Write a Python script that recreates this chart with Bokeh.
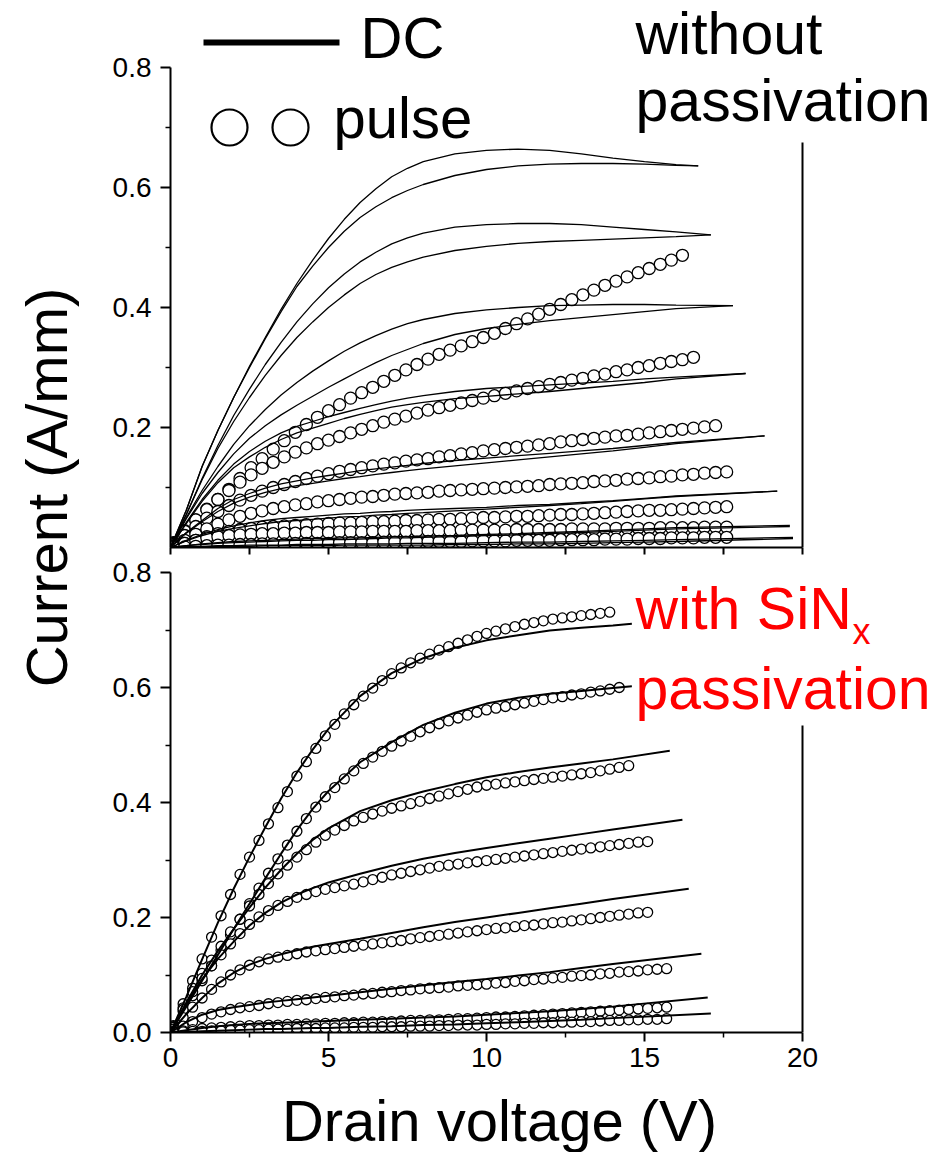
from math import pi

from bokeh.embed import file_html
from bokeh.layouts import column, row
from bokeh.models import Arrow, FixedTicker, Label, LinearAxis, PrintfTickFormatter, Range1d
from bokeh.plotting import figure
from bokeh.resources import INLINE

FONT = "Liberation Sans"

# ---------------------------------------------------------------- data
# Top panel: device without passivation
V_DC_TOP = [0, 0.5, 1, 1.5, 2, 2.5, 3, 3.5, 4, 4.5, 5, 5.5, 6, 6.5, 7, 7.5, 8, 9, 10, 11, 12, 13, 14, 15, 16]
DC_TOP_END_V = [16.7, 17.1, 17.8, 18.2, 18.8, 19.2, 19.6, 19.7]
# each gate step has two DC sweeps (a, b); last value belongs to the end voltage
DC_TOP_A = [
    [0, 0.062, 0.135, 0.195, 0.25, 0.302, 0.35, 0.397, 0.44, 0.479, 0.515, 0.547, 0.575, 0.598, 0.618, 0.632, 0.643, 0.656, 0.662, 0.664, 0.662, 0.656, 0.649, 0.643, 0.638, 0.636],
    [0, 0.055, 0.115, 0.17, 0.22, 0.264, 0.305, 0.342, 0.376, 0.406, 0.433, 0.456, 0.476, 0.492, 0.506, 0.516, 0.524, 0.534, 0.538, 0.54, 0.54, 0.538, 0.534, 0.53, 0.526, 0.521],
    [0, 0.05, 0.095, 0.135, 0.172, 0.203, 0.23, 0.254, 0.275, 0.294, 0.311, 0.327, 0.341, 0.353, 0.364, 0.373, 0.38, 0.39, 0.396, 0.4, 0.403, 0.404, 0.405, 0.405, 0.404, 0.403],
    [0, 0.042, 0.08, 0.112, 0.139, 0.16, 0.177, 0.191, 0.202, 0.21, 0.218, 0.225, 0.232, 0.238, 0.244, 0.249, 0.253, 0.26, 0.265, 0.268, 0.271, 0.274, 0.277, 0.281, 0.284, 0.29],
    [0, 0.025, 0.045, 0.065, 0.08, 0.09, 0.099, 0.106, 0.111, 0.116, 0.12, 0.124, 0.128, 0.131, 0.134, 0.137, 0.14, 0.145, 0.149, 0.153, 0.157, 0.161, 0.165, 0.17, 0.175, 0.186],
    [0, 0.012, 0.022, 0.03, 0.036, 0.041, 0.045, 0.048, 0.05, 0.052, 0.054, 0.056, 0.057, 0.059, 0.06, 0.062, 0.063, 0.065, 0.067, 0.07, 0.072, 0.075, 0.078, 0.082, 0.086, 0.094],
    [0, 0.003, 0.006, 0.008, 0.01, 0.011, 0.012, 0.013, 0.014, 0.015, 0.015, 0.016, 0.016, 0.017, 0.018, 0.018, 0.019, 0.02, 0.022, 0.023, 0.025, 0.027, 0.029, 0.031, 0.033, 0.037],
    [0, 0.001, 0.002, 0.003, 0.003, 0.004, 0.004, 0.004, 0.005, 0.005, 0.005, 0.006, 0.006, 0.006, 0.006, 0.007, 0.007, 0.007, 0.008, 0.009, 0.009, 0.01, 0.011, 0.012, 0.013, 0.017],
]
DC_TOP_B = [
    [0, 0.062, 0.135, 0.195, 0.25, 0.3, 0.348, 0.393, 0.435, 0.469, 0.5, 0.527, 0.55, 0.568, 0.583, 0.595, 0.605, 0.62, 0.63, 0.636, 0.639, 0.64, 0.64, 0.639, 0.637, 0.636],
    [0, 0.055, 0.113, 0.165, 0.21, 0.25, 0.287, 0.32, 0.35, 0.376, 0.4, 0.421, 0.44, 0.455, 0.467, 0.476, 0.484, 0.495, 0.502, 0.507, 0.51, 0.512, 0.514, 0.516, 0.518, 0.521],
    [0, 0.048, 0.09, 0.125, 0.156, 0.182, 0.203, 0.221, 0.237, 0.252, 0.267, 0.281, 0.295, 0.308, 0.32, 0.33, 0.34, 0.355, 0.365, 0.372, 0.378, 0.383, 0.388, 0.393, 0.398, 0.403],
    [0, 0.04, 0.077, 0.108, 0.133, 0.151, 0.167, 0.18, 0.191, 0.199, 0.207, 0.215, 0.222, 0.228, 0.234, 0.238, 0.242, 0.248, 0.252, 0.256, 0.26, 0.265, 0.27, 0.275, 0.281, 0.29],
    [0, 0.024, 0.043, 0.06, 0.074, 0.084, 0.092, 0.098, 0.103, 0.107, 0.111, 0.115, 0.118, 0.122, 0.125, 0.128, 0.131, 0.136, 0.141, 0.146, 0.151, 0.156, 0.161, 0.167, 0.173, 0.186],
    [0, 0.011, 0.02, 0.027, 0.032, 0.036, 0.04, 0.043, 0.045, 0.047, 0.049, 0.051, 0.052, 0.054, 0.055, 0.057, 0.058, 0.061, 0.064, 0.067, 0.07, 0.073, 0.077, 0.081, 0.085, 0.094],
    [0, 0.003, 0.005, 0.007, 0.008, 0.009, 0.01, 0.011, 0.012, 0.012, 0.013, 0.013, 0.014, 0.015, 0.016, 0.016, 0.017, 0.018, 0.02, 0.021, 0.023, 0.025, 0.027, 0.029, 0.031, 0.035],
    [0, 0.001, 0.001, 0.002, 0.002, 0.002, 0.003, 0.003, 0.003, 0.003, 0.003, 0.004, 0.004, 0.004, 0.004, 0.004, 0.004, 0.005, 0.005, 0.006, 0.006, 0.007, 0.008, 0.009, 0.01, 0.015],
]

V_PULSE_TOP = [0.1, 0.45, 0.8, 1.15, 1.5, 1.85, 2.2, 2.55, 2.9, 3.25, 3.6, 3.95, 4.3, 4.65, 5.0, 5.35, 5.7,
               6.05, 6.4, 6.75, 7.1, 7.45, 7.8, 8.15, 8.5, 8.85, 9.2, 9.55, 9.9, 10.25, 10.6, 10.95, 11.3,
               11.65, 12.0, 12.35, 12.7, 13.05, 13.4, 13.75, 14.1, 14.45, 14.8, 15.15, 15.5, 15.85, 16.2,
               16.55, 16.9, 17.25, 17.6]
PULSE_TOP = [
    [0.008, 0.028, 0.046, 0.064, 0.08, 0.097, 0.115, 0.133, 0.148, 0.164, 0.178, 0.192, 0.205, 0.217, 0.228, 0.238,
     0.249, 0.258, 0.267, 0.277, 0.287, 0.296, 0.305, 0.314, 0.322, 0.329, 0.336, 0.343, 0.35, 0.357, 0.365, 0.373,
     0.381, 0.389, 0.397, 0.405, 0.413, 0.421, 0.429, 0.437, 0.444, 0.451, 0.458, 0.465, 0.472, 0.479, 0.487],
    [0.007, 0.027, 0.046, 0.063, 0.08, 0.095, 0.109, 0.121, 0.132, 0.142, 0.151, 0.159, 0.166, 0.173, 0.179, 0.185,
     0.191, 0.197, 0.203, 0.209, 0.214, 0.219, 0.224, 0.229, 0.233, 0.237, 0.241, 0.245, 0.249, 0.253, 0.257, 0.261,
     0.265, 0.268, 0.272, 0.275, 0.279, 0.282, 0.286, 0.289, 0.293, 0.296, 0.3, 0.303, 0.307, 0.31, 0.313, 0.317],
    [0.005, 0.02, 0.035, 0.049, 0.06, 0.07, 0.079, 0.087, 0.094, 0.1, 0.105, 0.11, 0.115, 0.119, 0.123, 0.127,
     0.13, 0.133, 0.136, 0.139, 0.141, 0.144, 0.146, 0.148, 0.151, 0.153, 0.156, 0.158, 0.161, 0.163, 0.165, 0.167,
     0.169, 0.171, 0.173, 0.176, 0.178, 0.18, 0.182, 0.184, 0.186, 0.187, 0.189, 0.191, 0.193, 0.195, 0.197, 0.199,
     0.201, 0.203],
    [0.003, 0.012, 0.022, 0.031, 0.039, 0.046, 0.052, 0.057, 0.061, 0.065, 0.068, 0.071, 0.073, 0.076, 0.078, 0.08,
     0.082, 0.084, 0.085, 0.087, 0.089, 0.09, 0.091, 0.092, 0.094, 0.095, 0.096, 0.097, 0.098, 0.099, 0.1, 0.101,
     0.102, 0.103, 0.105, 0.106, 0.107, 0.108, 0.11, 0.111, 0.112, 0.114, 0.115, 0.116, 0.118, 0.119, 0.121, 0.122,
     0.124, 0.125, 0.126],
    [0.002, 0.007, 0.012, 0.018, 0.023, 0.027, 0.03, 0.032, 0.034, 0.035, 0.036, 0.037, 0.038, 0.039, 0.04, 0.041,
     0.041, 0.042, 0.043, 0.043, 0.044, 0.045, 0.045, 0.046, 0.047, 0.047, 0.048, 0.049, 0.05, 0.05, 0.051, 0.052,
     0.052, 0.053, 0.054, 0.055, 0.055, 0.056, 0.057, 0.058, 0.059, 0.06, 0.061, 0.062, 0.062, 0.063, 0.064, 0.065,
     0.066, 0.067, 0.068],
    [0.002, 0.007, 0.012, 0.016, 0.018, 0.02, 0.021, 0.022, 0.023, 0.023, 0.024, 0.024, 0.025, 0.025, 0.025, 0.026,
     0.026, 0.026, 0.027, 0.027, 0.027, 0.027, 0.028, 0.028, 0.028, 0.028, 0.029, 0.029, 0.029, 0.029, 0.029, 0.03,
     0.03, 0.03, 0.03, 0.03, 0.031, 0.031, 0.031, 0.031, 0.032, 0.032, 0.032, 0.032, 0.033, 0.033, 0.033, 0.033,
     0.034, 0.034, 0.034],
    [0.0, 0.001, 0.002, 0.003, 0.004, 0.004, 0.005, 0.005, 0.006, 0.006, 0.006, 0.007, 0.007, 0.007, 0.007, 0.008,
     0.008, 0.008, 0.008, 0.009, 0.009, 0.009, 0.009, 0.01, 0.01, 0.01, 0.01, 0.011, 0.011, 0.011, 0.011, 0.012,
     0.012, 0.012, 0.012, 0.013, 0.013, 0.013, 0.013, 0.014, 0.014, 0.014, 0.015, 0.015, 0.015, 0.016, 0.016, 0.016,
     0.017, 0.017, 0.017],
]

# Bottom panel: device with SiNx passivation
V_DC_BOT = [0, 0.5, 1, 1.5, 2, 2.5, 3, 3.5, 4, 4.5, 5, 6, 7, 8, 9, 10, 11, 12, 13, 14]
DC_BOT_END_V = [14.6, 14.6, 15.8, 16.2, 16.4, 16.8, 17.0, 17.1]
DC_BOT = [
    [0, 0.062, 0.127, 0.191, 0.25, 0.305, 0.357, 0.407, 0.452, 0.492, 0.528, 0.585, 0.625, 0.651, 0.669, 0.682, 0.691, 0.699, 0.704, 0.708, 0.711],
    [0, 0.045, 0.09, 0.135, 0.18, 0.224, 0.268, 0.311, 0.352, 0.389, 0.42, 0.47, 0.505, 0.535, 0.556, 0.572, 0.582, 0.589, 0.594, 0.599, 0.602],
    [0, 0.052, 0.1, 0.142, 0.18, 0.217, 0.252, 0.283, 0.311, 0.335, 0.355, 0.385, 0.404, 0.419, 0.432, 0.444, 0.453, 0.461, 0.468, 0.475, 0.49],
    [0, 0.05, 0.093, 0.128, 0.158, 0.186, 0.208, 0.226, 0.24, 0.251, 0.261, 0.276, 0.29, 0.302, 0.312, 0.321, 0.329, 0.337, 0.345, 0.353, 0.37],
    [0, 0.032, 0.06, 0.085, 0.104, 0.118, 0.128, 0.136, 0.143, 0.149, 0.154, 0.163, 0.173, 0.183, 0.192, 0.2, 0.208, 0.216, 0.224, 0.232, 0.25],
    [0, 0.018, 0.031, 0.039, 0.044, 0.048, 0.052, 0.055, 0.058, 0.061, 0.064, 0.07, 0.076, 0.082, 0.088, 0.093, 0.099, 0.105, 0.112, 0.119, 0.137],
    [0, 0.004, 0.008, 0.011, 0.013, 0.015, 0.016, 0.017, 0.018, 0.019, 0.02, 0.022, 0.024, 0.026, 0.028, 0.031, 0.034, 0.037, 0.041, 0.045, 0.061],
    [0, 0.001, 0.002, 0.003, 0.004, 0.005, 0.006, 0.006, 0.007, 0.008, 0.008, 0.01, 0.011, 0.013, 0.014, 0.016, 0.018, 0.02, 0.022, 0.025, 0.033],
]

V_PULSE_BOT = [0.1, 0.4, 0.7, 1.0, 1.3, 1.6, 1.9, 2.2, 2.5, 2.8, 3.1, 3.4, 3.7, 4.0, 4.3, 4.6, 4.9, 5.2, 5.5,
               5.8, 6.1, 6.4, 6.7, 7.0, 7.3, 7.6, 7.9, 8.2, 8.5, 8.8, 9.1, 9.4, 9.7, 10.0, 10.3, 10.6, 10.9,
               11.2, 11.5, 11.8, 12.1, 12.4, 12.7, 13.0, 13.3, 13.6, 13.9, 14.2, 14.5, 14.8, 15.1, 15.4, 15.7]
PULSE_BOT = [
    [0.012, 0.05, 0.09, 0.128, 0.166, 0.203, 0.24, 0.275, 0.305, 0.334, 0.363, 0.391, 0.419, 0.446, 0.471, 0.494,
     0.516, 0.536, 0.554, 0.57, 0.585, 0.599, 0.612, 0.624, 0.634, 0.643, 0.651, 0.658, 0.665, 0.671, 0.677, 0.683,
     0.689, 0.694, 0.698, 0.702, 0.706, 0.71, 0.713, 0.716, 0.719, 0.721, 0.723, 0.725, 0.727, 0.729, 0.731],
    [0.009, 0.037, 0.064, 0.09, 0.116, 0.143, 0.17, 0.197, 0.224, 0.251, 0.277, 0.302, 0.326, 0.35, 0.372, 0.392,
     0.41, 0.426, 0.441, 0.455, 0.468, 0.479, 0.489, 0.498, 0.507, 0.515, 0.523, 0.53, 0.537, 0.542, 0.547, 0.552,
     0.557, 0.561, 0.564, 0.567, 0.57, 0.573, 0.576, 0.579, 0.582, 0.584, 0.587, 0.589, 0.592, 0.594, 0.597, 0.6],
    [0.01, 0.043, 0.077, 0.103, 0.126, 0.15, 0.175, 0.197, 0.22, 0.24, 0.259, 0.276, 0.291, 0.305, 0.318, 0.331,
     0.343, 0.352, 0.36, 0.368, 0.374, 0.38, 0.385, 0.39, 0.394, 0.398, 0.402, 0.407, 0.411, 0.415, 0.419, 0.423,
     0.427, 0.43, 0.432, 0.434, 0.436, 0.438, 0.44, 0.442, 0.444, 0.446, 0.448, 0.45, 0.452, 0.455, 0.458, 0.461,
     0.464],
    [0.009, 0.04, 0.071, 0.094, 0.116, 0.135, 0.154, 0.172, 0.188, 0.201, 0.212, 0.221, 0.228, 0.235, 0.24, 0.245,
     0.249, 0.252, 0.255, 0.258, 0.262, 0.266, 0.27, 0.274, 0.277, 0.28, 0.283, 0.286, 0.289, 0.291, 0.293, 0.295,
     0.297, 0.299, 0.301, 0.303, 0.305, 0.307, 0.309, 0.311, 0.313, 0.315, 0.317, 0.319, 0.321, 0.323, 0.325, 0.327,
     0.329, 0.331, 0.332],
    [0.006, 0.026, 0.044, 0.06, 0.075, 0.088, 0.1, 0.109, 0.117, 0.123, 0.128, 0.131, 0.134, 0.137, 0.14, 0.142,
     0.144, 0.146, 0.148, 0.15, 0.152, 0.154, 0.156, 0.158, 0.16, 0.163, 0.165, 0.167, 0.169, 0.171, 0.173, 0.175,
     0.177, 0.179, 0.181, 0.182, 0.184, 0.186, 0.187, 0.189, 0.191, 0.192, 0.194, 0.196, 0.198, 0.2, 0.202, 0.204,
     0.206, 0.208, 0.209],
    [0.002, 0.011, 0.019, 0.026, 0.032, 0.036, 0.04, 0.043, 0.045, 0.047, 0.05, 0.052, 0.054, 0.056, 0.057, 0.059,
     0.061, 0.062, 0.064, 0.065, 0.067, 0.068, 0.07, 0.071, 0.073, 0.074, 0.076, 0.077, 0.078, 0.079, 0.081, 0.082,
     0.083, 0.084, 0.086, 0.087, 0.089, 0.09, 0.092, 0.093, 0.095, 0.096, 0.098, 0.099, 0.1, 0.102, 0.103, 0.105,
     0.106, 0.107, 0.109, 0.11, 0.111],
    [0.001, 0.003, 0.005, 0.007, 0.008, 0.009, 0.01, 0.011, 0.012, 0.012, 0.013, 0.013, 0.014, 0.014, 0.015, 0.015,
     0.016, 0.016, 0.017, 0.017, 0.018, 0.018, 0.019, 0.019, 0.02, 0.021, 0.021, 0.022, 0.022, 0.023, 0.024, 0.024,
     0.025, 0.026, 0.027, 0.027, 0.028, 0.029, 0.03, 0.031, 0.032, 0.033, 0.034, 0.035, 0.036, 0.037, 0.038, 0.039,
     0.04, 0.041, 0.042, 0.043, 0.044],
    [0.0, 0.001, 0.002, 0.002, 0.003, 0.003, 0.004, 0.004, 0.005, 0.005, 0.006, 0.006, 0.006, 0.007, 0.007, 0.007,
     0.008, 0.008, 0.008, 0.009, 0.009, 0.009, 0.01, 0.01, 0.01, 0.011, 0.011, 0.011, 0.012, 0.012, 0.013, 0.013,
     0.013, 0.014, 0.014, 0.015, 0.015, 0.016, 0.016, 0.017, 0.017, 0.018, 0.018, 0.019, 0.019, 0.02, 0.021, 0.021,
     0.022, 0.022, 0.023, 0.023, 0.024],
]

Y_TICKS = [0.0, 0.2, 0.4, 0.6, 0.8]
Y_MINOR = [0.1, 0.3, 0.5, 0.7]
X_TICKS = [0, 5, 10, 15, 20]
X_MINOR = [2.5, 7.5, 12.5, 17.5]
V_MAX = 20

# ---------------------------------------------------------------- geometry
LEFT = 70                 # frame starts 170 px from the page edge (100 px title strip + 70)
FRAME_W = 766             # frame runs to the right page edge
PX_PER_V = 632 / 20       # 0..20 V spans 632 px
X_END = FRAME_W / PX_PER_V
AXIS_X0 = 100 + LEFT      # page x of V = 0

# ---------------------------------------------------------------- helpers
def style_axis(ax):
    ax.axis_line_width = 2
    ax.axis_line_color = "black"
    ax.major_tick_line_width = 2
    ax.minor_tick_line_width = 1.5
    ax.major_tick_in = 0
    ax.minor_tick_in = 0
    ax.major_tick_out = 10
    ax.minor_tick_out = 5
    ax.major_label_text_font = FONT
    ax.major_label_text_font_size = "28px"
    ax.major_label_text_color = "black"


def panel(height, top, bottom, y_end):
    p = figure(width=836, height=height, x_range=Range1d(0, X_END), y_range=Range1d(0, y_end),
               x_axis_type=None, y_axis_type=None, output_backend="svg", toolbar_location=None,
               min_border_left=LEFT, min_border_right=0, min_border_top=top, min_border_bottom=bottom)
    p.outline_line_color = None
    p.background_fill_color = "white"
    p.border_fill_color = "white"
    return p


def draw_curves(p, v_dc, dc_sets, dc_end, v_pulse, pulse, dot_size, line_w):
    for vals in pulse:
        p.scatter(v_pulse[:len(vals)], vals, marker="circle", size=dot_size,
                  fill_color="white", line_color="black", line_width=1.3)
    for curves in dc_sets:
        for vals, v_end in zip(curves, dc_end):
            p.line(v_dc + [v_end], vals, line_color="black", line_width=line_w)


def right_edge(p, top_value):
    # closing vertical line at the right end of the voltage axis
    p.add_layout(Arrow(end=None, x_start=V_MAX, y_start=0, x_end=V_MAX, y_end=top_value,
                       line_color="black", line_width=2))


def text(p, x, y, s, size, color="black"):
    p.add_layout(Label(x=x, y=y, text=s, text_font=FONT, text_font_size=size, text_color=color,
                       text_align="left", text_baseline="middle"))


# ---------------------------------------------------------------- top panel
# 0.8 A/mm spans 480 px; the frame reaches the canvas top
TOP_PX_PER_A = 480 / 0.8
top = panel(556, 0, 9, 547 / TOP_PX_PER_A)
draw_curves(top, V_DC_TOP, [DC_TOP_A, DC_TOP_B], DC_TOP_END_V, V_PULSE_TOP, PULSE_TOP, 12, 1.3)

ty = LinearAxis(bounds=(0, 0.8), ticker=FixedTicker(ticks=Y_TICKS[1:], minor_ticks=Y_MINOR),
                formatter=PrintfTickFormatter(format="%.1f"))
style_axis(ty)
ty.major_label_standoff = 9
top.add_layout(ty, "left")

# voltage axis of the upper panel: tick marks only, the numbers sit under the lower panel
tx = LinearAxis(bounds=(0, V_MAX), ticker=FixedTicker(ticks=[], minor_ticks=X_TICKS + X_MINOR))
style_axis(tx)
tx.minor_tick_out = 7
tx.minor_tick_line_width = 2
top.add_layout(tx, "below")
right_edge(top, 0.675)


def top_units(px, py):
    return (px - AXIS_X0) / PX_PER_V, (547 - py) / TOP_PX_PER_A


# legend keys
lx0, ly0 = top_units(203, 42)
lx1, _ = top_units(339, 42)
top.line([lx0, lx1], [ly0, ly0], line_color="black", line_width=6)
cx0, cy0 = top_units(229, 127)
cx1, _ = top_units(290, 127)
top.scatter([cx0, cx1], [cy0, cy0], marker="circle", size=36, fill_color="white",
            line_color="black", line_width=2.2)
text(top, *top_units(360, 37), "DC", "58px")
text(top, *top_units(333, 117), "pulse", "58px")
text(top, *top_units(635, 33), "without", "59px")
text(top, *top_units(635, 100), "passivation", "59px")

# ---------------------------------------------------------------- bottom panel
BOT_PX_PER_A = 460 / 0.8
bot = panel(526, 16, 50, 0.8)
draw_curves(bot, V_DC_BOT, [DC_BOT], DC_BOT_END_V, V_PULSE_BOT, PULSE_BOT, 10, 2)

by = LinearAxis(bounds=(0, 0.8), ticker=FixedTicker(ticks=Y_TICKS, minor_ticks=Y_MINOR),
                formatter=PrintfTickFormatter(format="%.1f"))
style_axis(by)
by.major_label_standoff = 9
bot.add_layout(by, "left")

bx = LinearAxis(bounds=(0, V_MAX), ticker=FixedTicker(ticks=X_TICKS, minor_ticks=X_MINOR))
style_axis(bx)
bx.major_tick_out = 9
bx.major_label_standoff = 6
bot.add_layout(bx, "below")
right_edge(bot, 0.534)


def bot_units(px, py):
    return (px - AXIS_X0) / PX_PER_V, (1032 - py) / BOT_PX_PER_A


text(bot, *bot_units(635, 608), "with SiN", "59px", "#ff0000")
text(bot, *bot_units(852, 631), "x", "36px", "#ff0000")
text(bot, *bot_units(635, 688), "passivation", "59px", "#ff0000")

# ---------------------------------------------------------------- axis titles
ytitle = figure(width=100, height=1152, x_range=Range1d(0, 100), y_range=Range1d(0, 1152),
                x_axis_type=None, y_axis_type=None, output_backend="svg", toolbar_location=None,
                min_border=0)
ytitle.outline_line_color = None
ytitle.add_layout(Label(x=46, y=1152 - 487, text="Current (A/mm)", angle=pi / 2,
                        text_font=FONT, text_font_size="58px", text_color="black",
                        text_align="center", text_baseline="middle"))

# strip under the lower panel, sharing its voltage scale
xtitle = figure(width=836, height=70, x_range=Range1d(0, X_END), y_range=Range1d(0, 70),
                x_axis_type=None, y_axis_type=None, output_backend="svg", toolbar_location=None,
                min_border_left=LEFT, min_border_right=0, min_border_top=0, min_border_bottom=0)
xtitle.outline_line_color = None
xtitle.add_layout(Label(x=(499 - AXIS_X0) / PX_PER_V, y=32, text="Drain voltage (V)", text_font=FONT,
                        text_font_size="58px", text_color="black",
                        text_align="center", text_baseline="middle"))

layout = row(ytitle, column(top, bot, xtitle))
open("out.html", "w").write(file_html(layout, INLINE))
